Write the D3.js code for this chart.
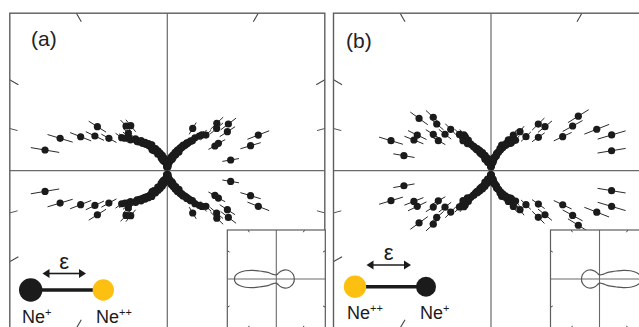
<!DOCTYPE html>
<html><head><meta charset="utf-8">
<script src="https://cdn.jsdelivr.net/npm/d3@7"></script>
<style>html,body{margin:0;padding:0;background:#fff;} svg{display:block;font-family:"Liberation Sans",Arial,sans-serif;}</style>
</head><body><svg id="c" width="639" height="327"></svg>
<script>
// ---------- DATA (upper half; lower half is the mirror image) ----------
// panel (a): angle in degrees (counter-clockwise from +x), value (arb. units), error
const aAngles = [170.4,163.2,158.6,154.4,147.8,151,144.1,129.1,138.9,131.4,121,136.2,142.5,140,135,132.7,
  92,98,103,106,110,112,114,116,118,119,121,123,125,126,128,130,132,134,136,120,124,116,111,
  85,90,95,100,104,108,112,115,118,122,125,128,131,126,114,100,
  21.4,16.7,9.6,37.4,33,40.6,28.2,27.4,42.7,59,47.3,50,43.8,46,
  85,80,76,73,70,68,66,64,63,61,60,58,57,55,54,53,52,50,62,58,67,72.5,63.7,59,54.7,
  95,88,83,78,74,70,67,64,61,58,55,52,66,80];
const aValues = [68.9,62.2,51.7,44.6,45.9,37.1,31.3,32.2,28.7,21.5,16.7,30,29.6,26.7,25,33.8,
  2.8,3.9,5,6.1,7.2,8.3,9.4,10.6,11.7,12.8,13.9,15,16.1,17.2,18.3,19.4,20.6,22.2,23.3,10.6,13.3,7.8,5.6,
  2.2,3.9,5,6.1,7.2,8.9,10.6,12.2,13.9,16.7,18.3,20,22.2,14.4,6.7,2.2,
  54.3,48.3,35.7,42.7,39.8,36.1,32.2,29.8,29.2,27.4,26.2,23.9,38.1,27.6,
  2.8,3.9,5,6.1,7.2,8.3,9.4,10.6,11.7,12.8,13.9,15,16.1,17.2,18.3,19.4,20.6,21.7,10,12.2,6.7,8.2,11.7,15.6,18.7,
  2.2,3.9,5,6.1,7.8,9.4,11.1,12.8,14.4,16.7,18.9,21.1,7.8,2.2];
const aErrors = [8.0,7.3,6.3,5.6,5.7,4.8,4.2,4.3,4.0,3.3,2.8,4.1,4.1,3.8,3.6,4.5,
  1.4,1.5,1.6,1.7,1.8,1.9,2.0,2.2,2.3,2.4,2.5,2.6,2.7,2.8,2.9,3.0,3.2,3.3,3.4,2.2,2.4,1.9,1.7,
  1.3,1.5,1.6,1.7,1.8,2.0,2.2,2.3,2.5,2.8,2.9,3.1,3.3,2.5,1.8,1.3,
  6.5,5.9,4.7,5.4,5.1,4.7,4.3,4.1,4.0,3.8,3.7,3.5,4.9,3.9,
  1.4,1.5,1.6,1.7,1.8,1.9,2.0,2.2,2.3,2.4,2.5,2.6,2.7,2.8,2.9,3.0,3.2,3.3,2.1,2.3,1.8,1.9,2.3,2.7,3.0,
  1.3,1.5,1.6,1.7,1.9,2.0,2.2,2.4,2.5,2.8,3.0,3.2,1.9,1.3];

// panel (b)
const bAngles = [163.3,170.2,144,137.2,139.3,154.2,158.3,147.8,150.3,141.6,134.2,127,126.5,
  95,100,105,110,114,117,120,122,124,125,126,127,128,129,118,112,130,131,127,128,
  86,91,97,102,107,111,115,119,122,125,131,133,121,108,
  32,28.7,25.4,21.4,16.5,9.4,44.6,39.2,35.2,44.2,58,54.3,67.4,53.4,60.6,68,
  85,80,76,73,72,70,68,66,64,62,60,58,56,79,
  95,89,84,79,75,72,69,66,63,60,57,54,51,76];
const bValues = [58,49.1,49.4,43.7,39.8,45.5,46.1,37.9,33.7,32.6,32.1,23.8,21.2,
  2.8,4.4,5.6,6.7,8.3,9.4,10.6,11.7,13.9,15,16.7,18.3,19.4,22.2,7.2,5,25,26.7,25,23.3,
  2.2,3.9,5,6.1,7.5,9.2,11.1,12.8,14.4,16.4,20,22.8,13.3,5.6,
  57.2,51.7,44.1,63.1,69.9,67.9,36.9,38.7,32.2,27.1,23.4,18.7,15.4,27,19.6,13.4,
  2.8,4.4,6.1,7.8,10.2,8.9,11.1,12.8,14.4,16.1,17.8,20,21.7,7,
  2.2,3.9,5,6.1,7.8,9.4,11.1,12.8,14.4,16.1,17.8,19.4,21.7,5];
const bErrors = [6.9,6.0,6.0,5.5,5.1,5.7,5.7,4.9,4.5,4.4,4.3,3.5,3.2,
  1.4,1.5,1.7,1.8,1.9,2.0,2.2,2.3,2.5,2.6,2.8,2.9,3.0,3.3,1.8,1.6,3.6,3.8,3.6,3.4,
  1.3,1.5,1.6,1.7,1.9,2.0,2.2,2.4,2.5,2.7,3.1,3.4,2.4,1.7,
  6.8,6.3,5.5,7.4,8.1,7.9,4.8,5.0,4.3,3.8,3.4,3.0,2.6,3.8,3.1,2.4,
  1.4,1.5,1.7,1.9,2.1,2.0,2.2,2.4,2.5,2.7,2.9,3.1,3.3,1.8,
  1.3,1.5,1.6,1.7,1.9,2.0,2.2,2.4,2.5,2.7,2.9,3.0,3.3,1.6];

// inset: calculated angular distribution (upper half, mirrored)
const insetAngles = [0,15,30,40,50,60,70,80,90,100,110,120,130,140,150,155,160,165,170,175,180];
const insetValues = [0.40,0.39,0.35,0.31,0.26,0.20,0.14,0.10,0.09,0.093,0.10,0.115,0.14,0.22,0.33,0.42,0.56,0.71,0.83,0.91,0.93];

// polar grid tick angles (degrees) and panel labels
const tickAngles = [30,60,120,150,210,240,300,330];
const minorTickAngles = [15,165,195,345];
const panelLabels = ["(a)","(b)"];

// ---------- DRAWING ----------
const svg = d3.select("#c");
const rScale = d3.scaleLinear().domain([0,100]).range([0,180]);
const insetScale = d3.scaleLinear().domain([0,1]).range([0,45]);
const rad = d => d*Math.PI/180;
const frameCol = "#5e5e5e", axisCol = "#6a6a6a";

function polar(r, a){ return [r*Math.cos(rad(a)), -r*Math.sin(rad(a))]; }

function drawPanel(cfg){
  const half = 157.5;
  const g = svg.append("g").attr("transform",`translate(${cfg.cx},${cfg.cy})`);
  const clipId = "clip_"+cfg.id;
  g.append("clipPath").attr("id",clipId).append("rect")
    .attr("x",-half).attr("y",-half).attr("width",2*half).attr("height",2*half);
  const inner = g.append("g").attr("clip-path",`url(#${clipId})`);
  inner.append("line").attr("x1",-half).attr("x2",half).attr("y1",0).attr("y2",0)
    .attr("stroke",axisCol).attr("stroke-width",1.2);
  inner.append("line").attr("x1",0).attr("x2",0).attr("y1",-half).attr("y2",half)
    .attr("stroke",axisCol).attr("stroke-width",1.2);
  inner.selectAll("line.tk").data(tickAngles).join("line").attr("class","tk")
    .attr("x1",d=>polar(172,d)[0]).attr("y1",d=>polar(172,d)[1])
    .attr("x2",d=>polar(190,d)[0]).attr("y2",d=>polar(190,d)[1])
    .attr("stroke","#444").attr("stroke-width",1.1);
  inner.selectAll("line.mtk").data(minorTickAngles).join("line").attr("class","mtk")
    .attr("x1",d=>polar(155,d)[0]).attr("y1",d=>polar(155,d)[1])
    .attr("x2",d=>polar(170,d)[0]).attr("y2",d=>polar(170,d)[1])
    .attr("stroke","#555").attr("stroke-width",1);
  g.append("rect").attr("x",-half).attr("y",-half).attr("width",2*half).attr("height",2*half)
    .attr("fill","none").attr("stroke",frameCol).attr("stroke-width",1.4);

  const pts = [];
  cfg.angles.forEach((a,i)=>{
    pts.push({a:a, v:cfg.values[i], e:cfg.errors[i]});
    pts.push({a:-a, v:cfg.values[i], e:cfg.errors[i]});
  });
  inner.selectAll("line.err").data(pts).join("line").attr("class","err")
    .attr("x1",d=>polar(rScale(d.v-d.e),d.a)[0]).attr("y1",d=>polar(rScale(d.v-d.e),d.a)[1])
    .attr("x2",d=>polar(rScale(d.v+d.e),d.a)[0]).attr("y2",d=>polar(rScale(d.v+d.e),d.a)[1])
    .attr("stroke","#2a2a2a").attr("stroke-width",1);
  inner.selectAll("circle.pt").data(pts).join("circle").attr("class","pt")
    .attr("cx",d=>polar(rScale(d.v),d.a)[0]).attr("cy",d=>polar(rScale(d.v),d.a)[1])
    .attr("r",3.6).attr("fill","#1b1b1b");

  svg.append("text").attr("x",cfg.labelX).attr("y",cfg.labelY).attr("font-size",21)
    .attr("fill","#222").text(cfg.label);

  const ih = 49;
  const ig = svg.append("g").attr("transform",`translate(${cfg.icx},${cfg.icy})`);
  const iclip = "iclip_"+cfg.id;
  ig.append("clipPath").attr("id",iclip).append("rect").attr("x",-ih).attr("y",-ih).attr("width",2*ih).attr("height",2*ih);
  ig.append("rect").attr("x",-ih).attr("y",-ih).attr("width",2*ih).attr("height",2*ih).attr("fill","#fff");
  const ii = ig.append("g").attr("clip-path",`url(#${iclip})`);
  ii.append("line").attr("x1",-ih).attr("x2",ih).attr("y1",0).attr("y2",0).attr("stroke",axisCol).attr("stroke-width",1.1);
  ii.append("line").attr("x1",0).attr("x2",0).attr("y1",-ih).attr("y2",ih).attr("stroke",axisCol).attr("stroke-width",1.1);
  ii.selectAll("line.itk").data(tickAngles).join("line").attr("class","itk")
    .attr("x1",d=>polar(54,d)[0]).attr("y1",d=>polar(54,d)[1])
    .attr("x2",d=>polar(62,d)[0]).attr("y2",d=>polar(62,d)[1])
    .attr("stroke","#444").attr("stroke-width",1);
  const curvePts = [];
  insetAngles.forEach((a,i)=>curvePts.push({a:a, v:insetValues[i]}));
  for(let i=insetAngles.length-2;i>0;i--) curvePts.push({a:360-insetAngles[i], v:insetValues[i]});
  const line = d3.lineRadial()
    .angle(d=>Math.PI/2 - rad(cfg.flip ? 180-d.a : d.a))
    .radius(d=>insetScale(d.v))
    .curve(d3.curveCardinalClosed.tension(0.2));
  ii.append("path").attr("d",line(curvePts)).attr("fill","none").attr("stroke","#555").attr("stroke-width",1.2);
  ig.append("rect").attr("x",-ih).attr("y",-ih).attr("width",2*ih).attr("height",2*ih)
    .attr("fill","none").attr("stroke",frameCol).attr("stroke-width",1.2);

  const L = cfg.legend;
  const lg = svg.append("g");
  lg.append("line").attr("x1",L.x1).attr("x2",L.x2).attr("y1",L.y).attr("y2",L.y).attr("stroke","#1b1b1b").attr("stroke-width",3.4);
  lg.append("circle").attr("cx",L.x1).attr("cy",L.y).attr("r",L.r1).attr("fill",L.c1);
  lg.append("circle").attr("cx",L.x2).attr("cy",L.y).attr("r",L.r2).attr("fill",L.c2);
  const ah = 7, aw = 4.5;
  lg.append("line").attr("x1",L.ax1+ah-1).attr("x2",L.ax2-ah+1).attr("y1",L.ay).attr("y2",L.ay).attr("stroke","#1b1b1b").attr("stroke-width",1.6);
  lg.append("path").attr("d",`M${L.ax1},${L.ay} L${L.ax1+ah},${L.ay-aw} L${L.ax1+ah},${L.ay+aw} Z`).attr("fill","#1b1b1b");
  lg.append("path").attr("d",`M${L.ax2},${L.ay} L${L.ax2-ah},${L.ay-aw} L${L.ax2-ah},${L.ay+aw} Z`).attr("fill","#1b1b1b");
  lg.append("text").attr("x",(L.ax1+L.ax2)/2).attr("y",L.ay-5).attr("text-anchor","middle").attr("font-size",22).attr("fill","#1b1b1b").text("ε");
  L.labels.forEach(t=>{
    const tx = lg.append("text").attr("x",t.x).attr("y",t.y).attr("font-size",18).attr("fill","#1b1b1b");
    tx.append("tspan").text("Ne");
    tx.append("tspan").attr("font-size",11).attr("dy",-7).text(t.sup);
  });
}

drawPanel({id:"a", cx:167.3, cy:170.7, angles:aAngles, values:aValues, errors:aErrors,
  label:panelLabels[0], labelX:31, labelY:46, icx:276.3, icy:279, flip:false,
  legend:{x1:30.7, x2:103.3, y:290, r1:11.7, r2:10.7, c1:"#1b1b1b", c2:"#FDC010",
    ax1:42.5, ax2:86, ay:273.5,
    labels:[{x:22,y:323,sup:"+"},{x:96,y:323,sup:"++"}]}});
drawPanel({id:"b", cx:491, cy:170.7, angles:bAngles, values:bValues, errors:bErrors,
  label:panelLabels[1], labelX:346, labelY:48, icx:599.5, icy:279, flip:true,
  legend:{x1:355, x2:426, y:286.7, r1:11.2, r2:10, c1:"#FDC010", c2:"#1b1b1b",
    ax1:366.5, ax2:411, ay:265,
    labels:[{x:347,y:319,sup:"++"},{x:420,y:319,sup:"+"}]}});
</script></body></html>
